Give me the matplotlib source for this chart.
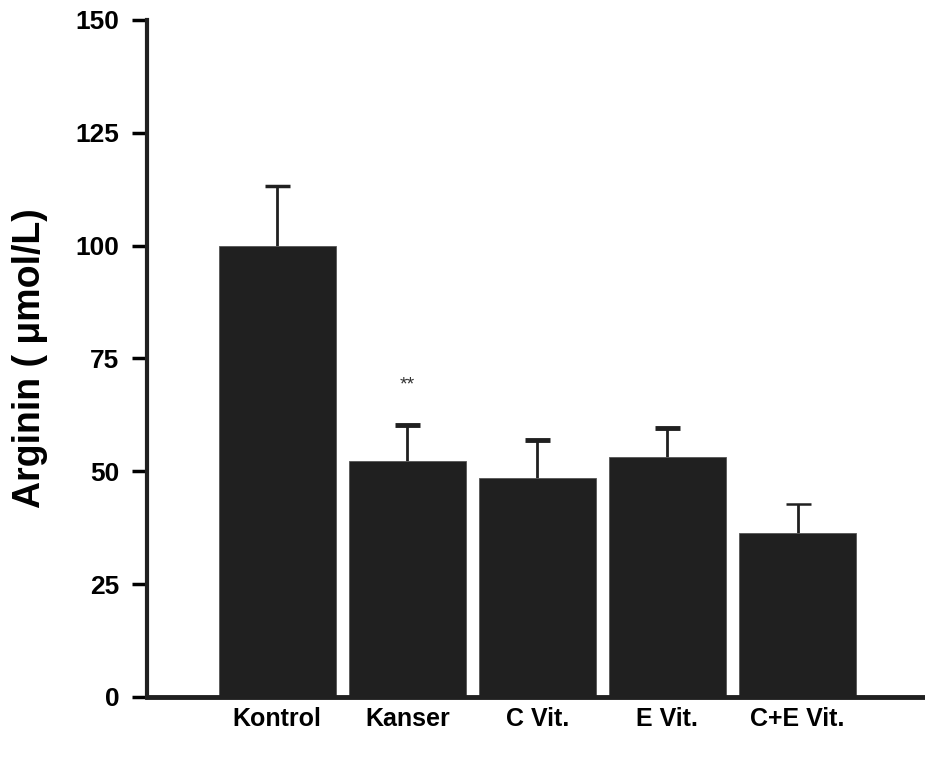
import numpy as np
import matplotlib as mpl
mpl.use('Agg')
import matplotlib.pyplot as plt

plt.rcParams['font.family'] = ['Liberation Sans', 'DejaVu Sans']

# data
groups = ["Kontrol", "Kanser", "C Vit.", "E Vit.", "C+E Vit."]
means = [100.0, 52.2, 48.5, 53.1, 36.4]
sems = [13.3, 8.0, 8.4, 6.6, 6.4]
marks = ["", "**", "", "", ""]
yticks = [0, 25, 50, 75, 100, 125, 150]

DPI = 100
fig = plt.figure(figsize=(925 / DPI, 765 / DPI), dpi=DPI)
ax = fig.add_axes([0.159, 0.0889, 0.841, 0.885])

x = np.arange(len(groups))
dark = "#202020"
ax.bar(x, means, width=0.9, color=dark, edgecolor="#555555", linewidth=0.6, zorder=2)

# upper error bars only, cap thickness varies a bit in the original
capw = [2.5, 3.5, 3.5, 3.5, 1.8]
for xi, m, e, cw in zip(x, means, sems, capw):
    eb = ax.errorbar(xi, m, yerr=[[0], [e]], fmt="none", ecolor=dark,
                     elinewidth=2, capsize=9, capthick=cw, zorder=1)
    eb[1][0].remove()  # drop the lower cap sitting on the bar top

for xi, m, e, s in zip(x, means, sems, marks):
    if s:
        ax.text(xi, m + e + 9, s, ha="center", va="center",
                fontsize=14, color="#333333")

ax.set_xlim(-1, 4.98)
ax.set_ylim(0, 150)
ax.set_yticks(yticks)
ax.set_xticks(x)
ax.set_xticklabels(groups, fontsize=18, fontweight="bold")
ax.set_yticklabels([str(t) for t in yticks], fontsize=19, fontweight="bold")
ax.tick_params(axis="x", length=0, pad=7)
ax.tick_params(axis="y", direction="out", length=11, width=2.5, pad=9)

for side in ["top", "right"]:
    ax.spines[side].set_visible(False)
ax.spines["left"].set_linewidth(3)
ax.spines["bottom"].set_linewidth(3.5)
ax.spines["left"].set_color(dark)
ax.spines["bottom"].set_color(dark)

ax.set_ylabel("Arginin ( \u03bcmol/L)", fontsize=27, fontweight="bold")
ax.yaxis.set_label_coords(-0.128, 0.50)

plt.savefig("out.png", dpi=DPI)
